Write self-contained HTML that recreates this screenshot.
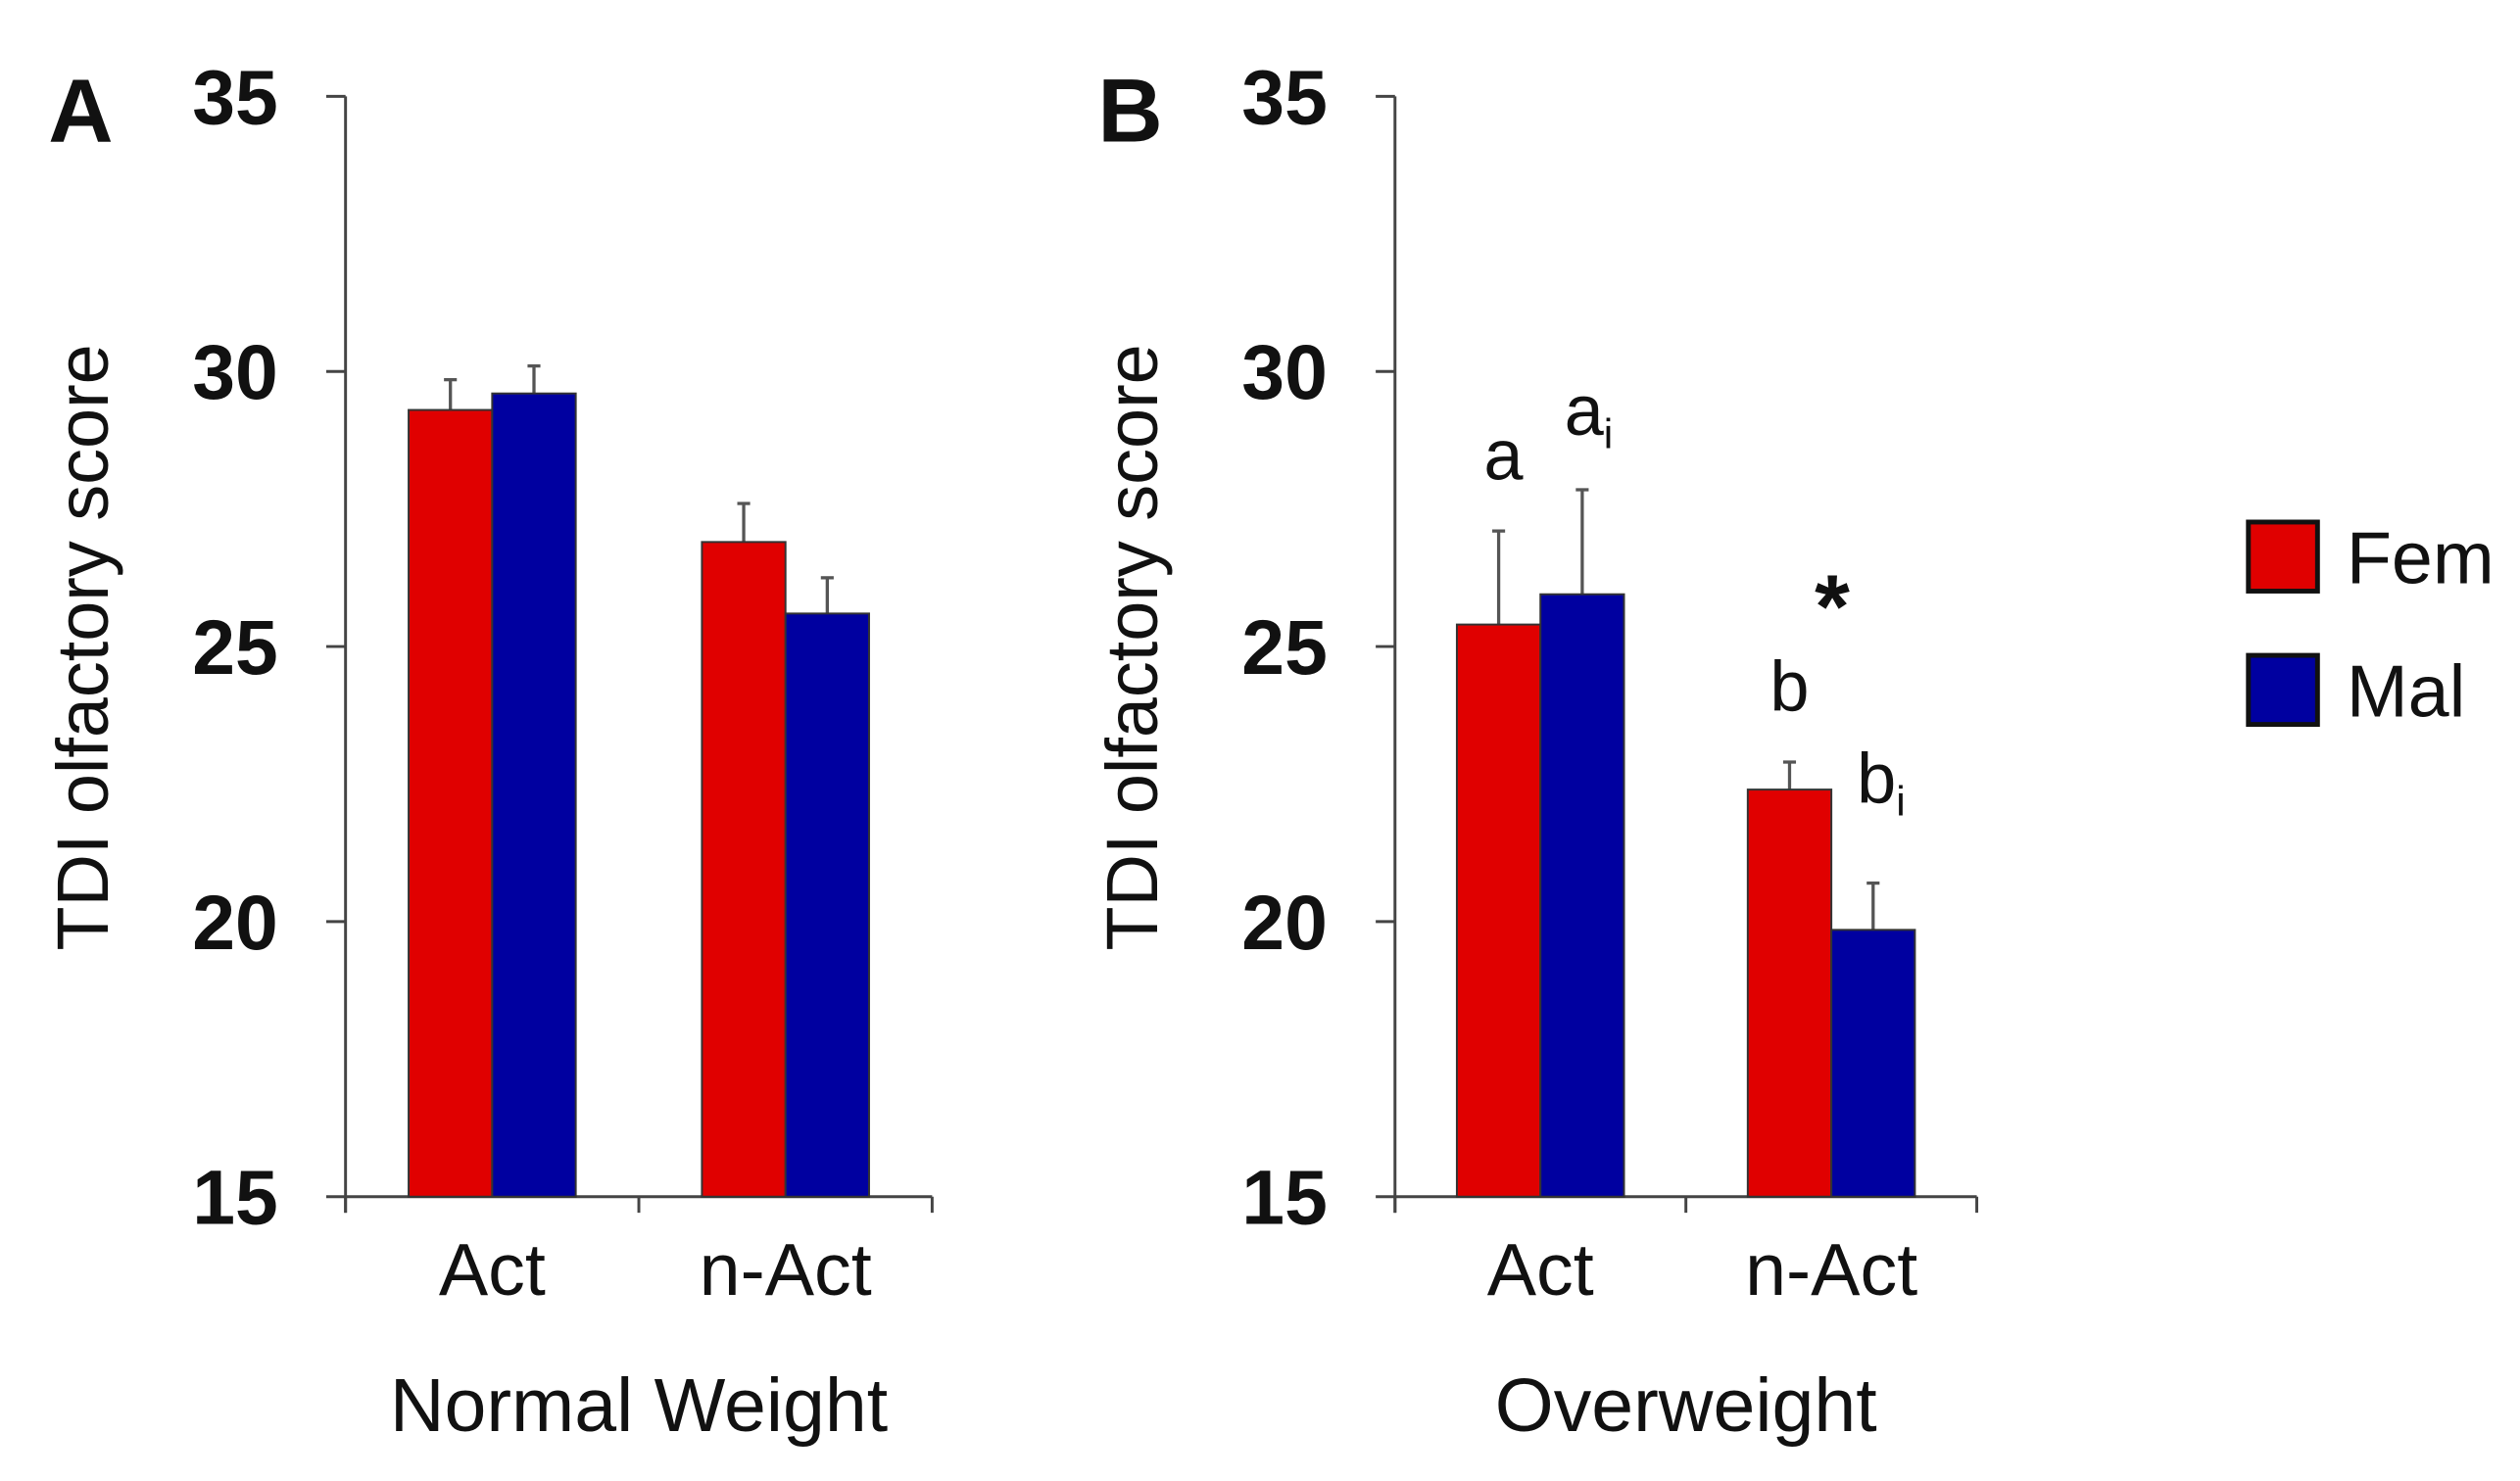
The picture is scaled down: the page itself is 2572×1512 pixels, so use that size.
<!DOCTYPE html>
<html><head><meta charset="utf-8"><style>html,body{margin:0;padding:0;background:#fff}svg{display:block}text{font-family:"Liberation Sans",Arial,sans-serif}</style></head>
<body>
<svg id="chart" width="2572" height="1512" viewBox="0 0 1568 922" preserveAspectRatio="none" xmlns="http://www.w3.org/2000/svg"></svg>
<script>
const categories = ["Act", "n-Act"];
const seriesNames = ["Fem", "Mal"];
const normalFem = [29.3, 26.9];
const normalMal = [29.6, 25.6];
const normalFemErr = [0.55, 0.7];
const normalMalErr = [0.5, 0.65];
const overFem = [25.4, 22.4];
const overMal = [25.95, 19.85];
const overFemErr = [1.7, 0.5];
const overMalErr = [1.9, 0.85];
const yTicks = [15, 20, 25, 30, 35];

const NS = "http://www.w3.org/2000/svg";
const svg = document.getElementById('chart');
function mk(tag, attrs, parent, text) {
  const e = document.createElementNS(NS, tag);
  for (const k in attrs) e.setAttribute(k, attrs[k]);
  if (text !== undefined) e.textContent = text;
  (parent || svg).appendChild(e);
  return e;
}
const Y0 = 745, Y1 = 60, VMIN = 15, VMAX = 35;
function y(v) { return Y0 - (v - VMIN) / (VMAX - VMIN) * (Y0 - Y1); }
const colors = ["#e00000", "#0000a0"];

function panel(opt) {
  const g = mk('g', {});
  
  
  const ax = opt.axisX, xEnd = opt.axisEnd;
  const yl = mk('line', {x1: ax, y1: Y1, x2: ax, y2: Y0 + 10, stroke: '#444', 'stroke-width': 1.8}, g);
  
  
  yTicks.forEach(t => {
    const tl = mk('line', {x1: ax - 12, y1: y(t), x2: ax, y2: y(t), stroke: '#444', 'stroke-width': 1.8}, g);
    
    
    const tx = mk('text', {x: ax - 42, y: y(t) + 17, 'text-anchor': 'end', 'font-size': 48, 'font-weight': 'bold', fill: '#111'}, g, String(t));
    
    
  });
  const xl = mk('line', {x1: ax, y1: Y0, x2: xEnd, y2: Y0, stroke: '#444', 'stroke-width': 1.8}, g);
  
  
  const n = categories.length, w = (xEnd - ax) / n;
  for (let i = 0; i <= n; i++) {
    const xt = mk('line', {x1: ax + i * w, y1: Y0, x2: ax + i * w, y2: Y0 + 10, stroke: '#444', 'stroke-width': 1.8}, g);
    
    
  }
  const barW = 52;
  const bars = [opt.fem, opt.mal], errs = [opt.femErr, opt.malErr];
  opt.barTops = [];
  categories.forEach((c, i) => {
    const cx = ax + (i + 0.5) * w;
    opt.barTops.push([]);
    bars.forEach((arr, s) => {
      const x0 = cx - barW + s * barW;
      const top = y(arr[i]);
      const et = y(arr[i] + errs[s][i]);
      const el = mk('line', {x1: x0 + barW / 2, y1: top, x2: x0 + barW / 2, y2: et, stroke: '#555', 'stroke-width': 2}, g);
      
      
      const ec = mk('line', {x1: x0 + barW / 2 - 4, y1: et, x2: x0 + barW / 2 + 4, y2: et, stroke: '#555', 'stroke-width': 2}, g);
      
      
      const r = mk('rect', {x: x0, y: top, width: barW, height: Y0 - top, fill: colors[s], stroke: '#333', 'stroke-width': 1.2}, g);
      
      
      opt.barTops[i].push({x: x0 + barW / 2, et: et});
    });
    const cl = mk('text', {x: cx, y: 806, 'text-anchor': 'middle', 'font-size': 46, fill: '#111'}, g, c);
    
    
  });
  const xtitle = mk('text', {x: ax + (xEnd - ax) / 2, y: 891, 'text-anchor': 'middle', 'font-size': 47, fill: '#111'}, g, opt.xTitle);
  
  
  const yt = mk('text', {x: 0, y: 0, 'text-anchor': 'middle', 'font-size': 45, fill: '#111', transform: 'translate(' + (ax - 148) + ',403) rotate(-90)'}, g, 'TDI olfactory score');
  
  
  const pl = mk('text', {x: ax - 185, y: 88, 'font-size': 56, 'font-weight': 'bold', fill: '#111'}, g, opt.letter);
  
  
  return opt;
}
panel({name: 'panel-a-normal-weight', letter: 'A', axisX: 215, axisEnd: 580, fem: normalFem, mal: normalMal, femErr: normalFemErr, malErr: normalMalErr, xTitle: 'Normal Weight'});
const pb = panel({name: 'panel-b-overweight', letter: 'B', axisX: 868, axisEnd: 1230, fem: overFem, mal: overMal, femErr: overFemErr, malErr: overMalErr, xTitle: 'Overweight'});

function ann(x, yy, main, sub, name) {
  const t = mk('text', {x: x, y: yy, 'text-anchor': 'middle', 'font-size': 44, fill: '#111'});
  
  
  t.appendChild(document.createTextNode(main));
  if (sub) {
    mk('tspan', {'font-size': 26, dy: 8}, t, sub);
  }
}
const bt = pb.barTops;
ann(bt[0][0].x + 3, bt[0][0].et - 32, 'a', null, 'letter-a-fem-act');
ann(bt[0][1].x + 4, bt[0][1].et - 34, 'a', 'i', 'letter-a-mal-act');
ann(bt[1][0].x, bt[1][0].et - 32, 'b', null, 'letter-b-fem-nact');
ann(bt[1][1].x + 5, bt[1][1].et - 50, 'b', 'i', 'letter-b-mal-nact');
const star = mk('text', {x: 1140, y: 397, 'text-anchor': 'middle', 'font-size': 56, 'font-weight': 'bold', fill: '#111'}, svg, '*');



const lg = mk('g', {});


seriesNames.forEach((s, i) => {
  const yy = 325 + i * 83;
  const r = mk('rect', {x: 1399, y: yy, width: 43, height: 43, fill: colors[i], stroke: '#111', 'stroke-width': 3}, lg);
  
  
  const t = mk('text', {x: 1460, y: yy + 38, 'font-size': 46, fill: '#111'}, lg, s);
  
  
});
</script>
</body></html>
